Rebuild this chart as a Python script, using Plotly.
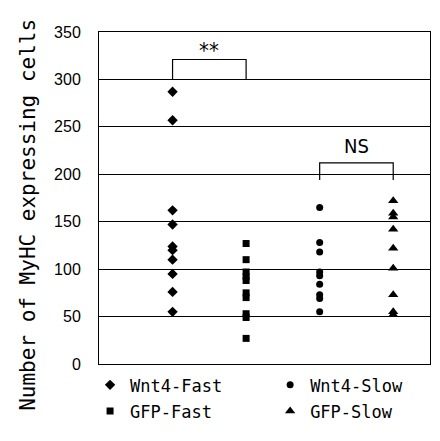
import plotly.graph_objects as go

# ---- data ----
groups = ["Wnt4-Fast", "GFP-Fast", "Wnt4-Slow", "GFP-Slow"]
group_pos = {"Wnt4-Fast": 1, "GFP-Fast": 2, "Wnt4-Slow": 3, "GFP-Slow": 4}
legend_col = {"Wnt4-Fast": "legend", "GFP-Fast": "legend", "Wnt4-Slow": "legend2", "GFP-Slow": "legend2"}
symbols = {"Wnt4-Fast": "diamond", "GFP-Fast": "square", "Wnt4-Slow": "circle", "GFP-Slow": "triangle-up"}
sizes = {"Wnt4-Fast": 8, "GFP-Fast": 7, "Wnt4-Slow": 7, "GFP-Slow": 9}

wnt4_fast = [287, 257, 162, 147, 124, 120, 110, 95, 76, 55]
gfp_fast = [127, 110, 97, 92, 88, 75, 70, 53, 49, 27]
wnt4_slow = [165, 128, 118, 97, 93, 84, 73, 69, 55]
gfp_slow = [172, 159, 155, 142, 122, 101, 73, 55, 52]
values = {"Wnt4-Fast": wnt4_fast, "GFP-Fast": gfp_fast, "Wnt4-Slow": wnt4_slow, "GFP-Slow": gfp_slow}

y_ticks = [0, 50, 100, 150, 200, 250, 300, 350]
y_title = "Number of MyHC expressing cells"

# significance brackets: (left group, right group, leg bottom, top, label, label y, label size)
brackets = [
    ("Wnt4-Fast", "GFP-Fast", 300, 321, "**", 331, 22),
    ("Wnt4-Slow", "GFP-Slow", 194, 212, "NS", 230, 20),
]

fig = go.Figure()
for g in groups:
    v = values[g]
    fig.add_trace(go.Scatter(
        x=[group_pos[g]] * len(v), y=v, mode="markers", name=g,
        legend=legend_col[g], legendgroup=g,
        marker=dict(symbol=symbols[g], size=sizes[g], color="black", line=dict(width=0)),
    ))

for a, b, low, top, label, ty, fs in brackets:
    xa, xb = group_pos[a], group_pos[b]
    fig.add_shape(type="path", xref="x", yref="y",
                  path=f"M {xa},{low} L {xa},{top} L {xb},{top} L {xb},{low}",
                  line=dict(color="black", width=1.2))
    fig.add_annotation(x=(xa + xb) / 2, y=ty, xref="x", yref="y", text=label,
                       showarrow=False,
                       font=dict(family="DejaVu Sans Condensed, Liberation Sans", size=fs, color="black"))

# y-axis title
fig.add_annotation(text=y_title, textangle=-90, xref="paper", yref="paper",
                   x=-0.215, xanchor="center", y=(364 - 215) / 332, yanchor="middle",
                   showarrow=False,
                   font=dict(family="DejaVu Sans Mono", size=21, color="black"))

leg_font = dict(family="DejaVu Sans Mono", size=17, color="black")
fig.update_layout(
    width=440, height=441,
    margin=dict(l=99, r=10, t=32, b=77),
    plot_bgcolor="white", paper_bgcolor="white",
    showlegend=True,
    legend=dict(orientation="v", x=-0.027, xanchor="left", y=-0.01, yanchor="top",
                font=leg_font, itemwidth=30, traceorder="grouped", tracegroupgap=1,
                bgcolor="rgba(0,0,0,0)"),
    legend2=dict(orientation="v", x=0.517, xanchor="left", y=-0.01, yanchor="top",
                 font=leg_font, itemwidth=30, traceorder="grouped", tracegroupgap=1,
                 bgcolor="rgba(0,0,0,0)"),
    font=dict(family="Liberation Sans", color="black"),
)
fig.update_xaxes(range=[0, 4.5], showticklabels=False, showgrid=False, zeroline=False,
                 showline=True, linecolor="black", linewidth=1, mirror=True, ticks="")
fig.update_yaxes(range=[0, 350], tickvals=y_ticks, showgrid=True, gridcolor="black", gridwidth=1,
                 zeroline=False, showline=True, linecolor="black", linewidth=1, mirror=True,
                 ticks="", ticklabelstandoff=14, tickfont=dict(size=16, family="Liberation Sans"))

fig.write_html("out.html")
